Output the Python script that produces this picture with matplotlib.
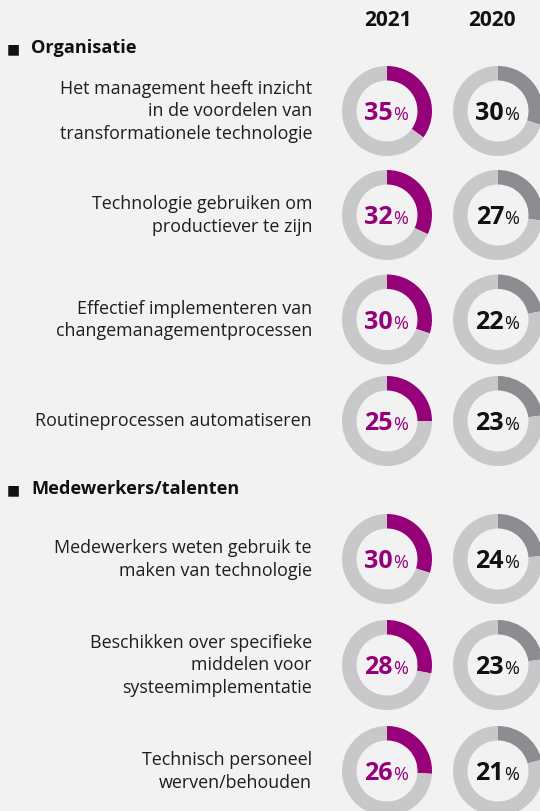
import matplotlib
matplotlib.use("Agg")
import matplotlib.pyplot as plt

# Data.
groupNames = ["Organisatie", "Medewerkers/talenten"]
itemGroup = [0, 0, 0, 0, 1, 1, 1]
itemLabels = [
    "Het management heeft inzicht\nin de voordelen van\ntransformationele technologie",
    "Technologie gebruiken om\nproductiever te zijn",
    "Effectief implementeren van\nchangemanagementprocessen",
    "Routineprocessen automatiseren",
    "Medewerkers weten gebruik te\nmaken van technologie",
    "Beschikken over specifieke\nmiddelen voor\nsysteemimplementatie",
    "Technisch personeel\nwerven/behouden",
]
years = ["2021", "2020"]
pct2021 = [35, 32, 30, 25, 30, 28, 26]
pct2020 = [30, 27, 22, 23, 24, 23, 21]


def main():
    # Canvas in pixel units, y pointing down.
    W, H = 540, 811
    fig = plt.figure(figsize=(W / 100, H / 100), dpi=100)
    fig.patch.set_facecolor("#f2f2f2")
    ax = fig.add_axes([0, 0, 1, 1])
    ax.set_facecolor("#f2f2f2")

    # Layout (pixels).
    rowY = [111, 215, 319.5, 421, 559, 665, 771]
    groupY = [53, 494]
    colX = [387, 498]
    yearX = [387.5, 492]
    labelRight = 312
    lineStep = 22.3
    radius = 45
    ring = 14.5

    fillColors = ["#960078", "#8d8c91"]
    restColor = "#c8c8ca"
    pctColors = ["#960078", "#111111"]
    textColor = "#1e1e1e"
    font = "Open Sans"

    # Year headers.
    for x, yr in zip(yearX, years):
        ax.text(x, 25.5, yr, ha="center", va="baseline", fontsize=15,
                fontweight="bold", family=font, color="#111111")

    # Group headers with square bullet.
    for name, gy in zip(groupNames, groupY):
        ax.text(7, gy, "\u25a0", ha="left", va="baseline", fontsize=10,
                family="DejaVu Sans", color="#111111")
        ax.text(31.5, gy, name, ha="left", va="baseline", fontsize=13.1,
                fontweight="bold", family=font, color="#111111")

    for i, label in enumerate(itemLabels):
        cy = rowY[i]

        # Labels, one text per line, centred on the donut row.
        lines = label.split("\n")
        for j, line in enumerate(lines):
            ly = cy + (j - (len(lines) - 1) / 2) * lineStep
            ax.text(labelRight, ly + 5.5, line, ha="right", va="baseline",
                    fontsize=12.9, family=font, color=textColor)

        # Donuts for both years.
        for k, vals in enumerate([pct2021, pct2020]):
            v = vals[i]
            cx = colX[k]
            ax.pie([v, 100 - v], colors=[fillColors[k], restColor],
                   center=(cx, cy), radius=radius, startangle=-90,
                   counterclock=True,
                   wedgeprops=dict(width=ring, linewidth=0))
            ax.text(cx + 6, cy + 9.5, str(v), ha="right", va="baseline",
                    fontsize=18, fontweight="bold", family=font,
                    color=pctColors[k])
            ax.text(cx + 6.5, cy + 9.5, "%", ha="left", va="baseline",
                    fontsize=13, family=font, color=pctColors[k])

    ax.set_xlim(0, W)
    ax.set_ylim(H, 0)
    ax.set_aspect("equal")
    ax.axis("off")

    fig.savefig("out.png", dpi=100, facecolor=fig.get_facecolor())


if __name__ == "__main__":
    main()
